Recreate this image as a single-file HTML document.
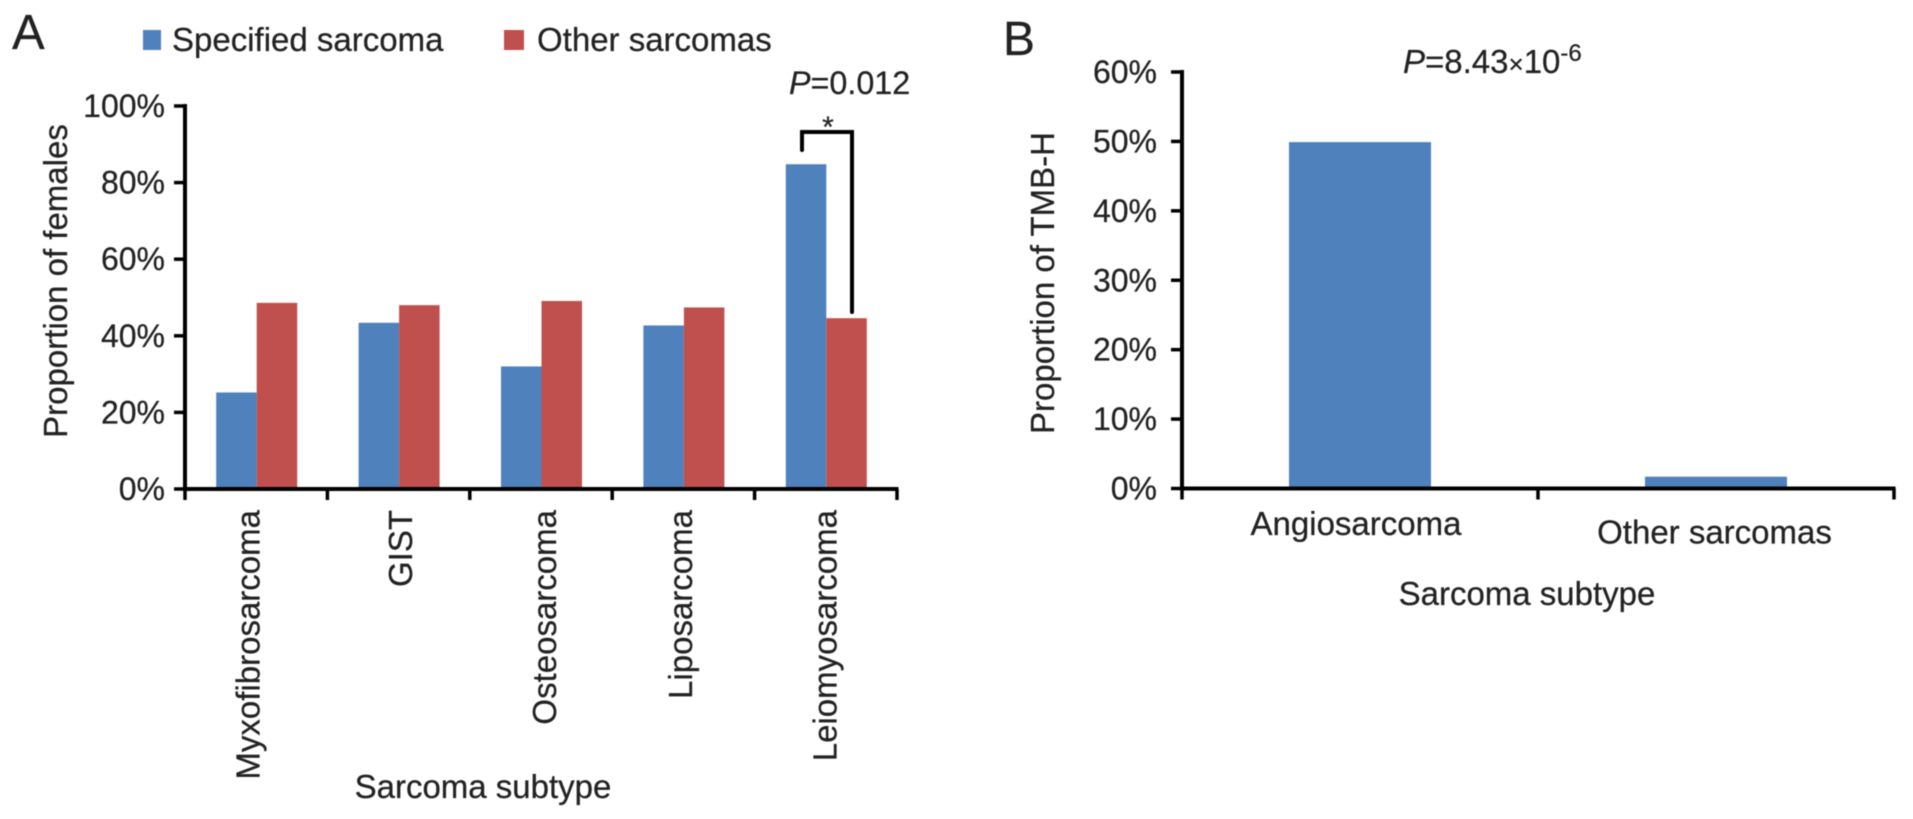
<!DOCTYPE html>
<html lang="en">
<head>
<meta charset="utf-8">
<title>Sarcoma subtype charts</title>
<style>
html,body{margin:0;padding:0;background:#fff;width:1913px;height:819px;overflow:hidden}
svg{display:block;filter:blur(0.6px)}
text{font-family:"Liberation Sans",Arial,sans-serif;fill:#222;font-size:33px;stroke:#222;stroke-width:0.25px}
</style>
</head>
<body>
<svg id="chart" xmlns="http://www.w3.org/2000/svg" width="1913" height="819" viewBox="0 0 1913 819">
  <rect x="0" y="0" width="1913" height="819" fill="#ffffff"/>
  <text x="12" y="49" style="font-size:49px">A</text>
  <text x="1003" y="55" style="font-size:48px">B</text>

  <rect x="143" y="30" width="18" height="20" fill="#4F81BD"/>
  <text x="172" y="51">Specified sarcoma</text>
  <rect x="504" y="30" width="20" height="20" fill="#C0504D"/>
  <text x="537" y="51">Other sarcomas</text>

  <text x="789" y="94" style="font-size:32.3px"><tspan font-style="italic">P</tspan>=0.012</text>
  <text x="1403" y="73"><tspan font-style="italic">P</tspan>=8.43<tspan style="font-size:26px">×</tspan>10<tspan dy="-12" style="font-size:24px">-6</tspan></text>

  <text text-anchor="middle" transform="translate(67 281) rotate(-90)">Proportion of females</text>
  <text text-anchor="middle" x="483" y="798">Sarcoma subtype</text>
  <text text-anchor="middle" transform="translate(1054 283) rotate(-90)">Proportion of TMB-H</text>
  <text text-anchor="middle" x="1527" y="605">Sarcoma subtype</text>

  <g id="panel-a"></g>
  <g id="panel-b"></g>

  <g>
    <path d="M802 150V132H852V312" fill="none" stroke="#000" stroke-width="4" stroke-linecap="round"/>
    <text x="828" y="137" text-anchor="middle" style="font-size:30px">*</text>
  </g>
</svg>
<script>
// Panel A data
const categoriesA = ["Myxofibrosarcoma", "GIST", "Osteosarcoma", "Liposarcoma", "Leiomyosarcoma"];
const specifiedSarcoma = [25.2, 43.4, 32, 42.7, 84.8];
const otherSarcomas = [48.6, 48, 49.1, 47.4, 44.6];
const ticksA = [0, 20, 40, 60, 80, 100];

// Panel B data
const categoriesB = ["Angiosarcoma", "Other sarcomas"];
const tmbHigh = [49.9, 1.7];
const ticksB = [0, 10, 20, 30, 40, 50, 60];

const NS = "http://www.w3.org/2000/svg";

function addRect(parent, x, y, w, h, fill) {
  const r = document.createElementNS(NS, "rect");
  r.setAttribute("x", x);
  r.setAttribute("y", y);
  r.setAttribute("width", w);
  r.setAttribute("height", h);
  r.setAttribute("fill", fill);
  parent.appendChild(r);
  return r;
}
function addLine(parent, x1, y1, x2, y2, sw) {
  const l = document.createElementNS(NS, "line");
  l.setAttribute("x1", x1);
  l.setAttribute("y1", y1);
  l.setAttribute("x2", x2);
  l.setAttribute("y2", y2);
  l.setAttribute("stroke", "#000");
  l.setAttribute("stroke-width", sw);
  parent.appendChild(l);
  return l;
}
function addText(parent, str, x, y, anchor, transform) {
  const t = document.createElementNS(NS, "text");
  t.textContent = str;
  t.setAttribute("text-anchor", anchor);
  if (transform) {
    t.setAttribute("transform", transform);
  } else {
    t.setAttribute("x", x);
    t.setAttribute("y", y);
  }
  parent.appendChild(t);
  return t;
}

function drawAxes(g, left, right, y, ticks, maxV, nCats, labelX) {
  ticks.forEach(function (v) {
    const mark = addLine(g, left - 11, y(v), left, y(v), 3.5);
    
    
    const lab = addText(g, v + "%", labelX, y(v) + 11, "end");
    lab.style.fontSize = "32px";
    
    
  });
  const yAxis = addLine(g, left, y(maxV) - 2, left, y(0) + 2, 4);
  
  
  const xAxis = addLine(g, left - 2, y(0), right + 1.5, y(0), 4);
  
  
  const step = (right - left) / nCats;
  for (let i = 0; i <= nCats; i++) {
    const tx = addLine(g, left + i * step, y(0), left + i * step, y(0) + 11, 3.5);
    
    
  }
}

// Panel A
(function () {
  const g = document.getElementById("panel-a");
  const left = 185, right = 897, base = 489, top = 106;
  const y = function (v) { return base - (base - top) * v / 100; };
  const step = (right - left) / categoriesA.length;
  const barW = 40.5;
  const cx = function (i) { return left + step * (i + 0.5) + 0.5; };
  const labelNudge = [3, 13, 14.5, 8, 10];
  categoriesA.forEach(function (c, i) {
    const b1 = addRect(g, cx(i) - barW, y(specifiedSarcoma[i]), barW, base - y(specifiedSarcoma[i]), "#4F81BD");
    
    
    const b2 = addRect(g, cx(i), y(otherSarcomas[i]), barW, base - y(otherSarcomas[i]), "#C0504D");
    
    
    const lab = addText(g, c, 0, 0, "end", "translate(" + (cx(i) + labelNudge[i]) + " 510) rotate(-90)");
    
    
  });
  drawAxes(g, left, right, y, ticksA, 100, categoriesA.length, 165);
})();

// Panel B
(function () {
  const g = document.getElementById("panel-b");
  const left = 1182, right = 1894, base = 488.5, top = 72;
  const y = function (v) { return base - (base - top) * v / 60; };
  const step = (right - left) / categoriesB.length;
  const barW = 142;
  const cx = function (i) { return left + step * (i + 0.5); };
  const labelNudge = [-4, -1.5];
  const labelY = [535, 543.5];
  categoriesB.forEach(function (c, i) {
    const b = addRect(g, cx(i) - barW / 2, y(tmbHigh[i]), barW, base - y(tmbHigh[i]), "#4F81BD");
    
    
    const lab = addText(g, c, cx(i) + labelNudge[i], labelY[i], "middle");
    
    
  });
  drawAxes(g, left, right, y, ticksB, 60, categoriesB.length, 1157);
})();
</script>
</body>
</html>
